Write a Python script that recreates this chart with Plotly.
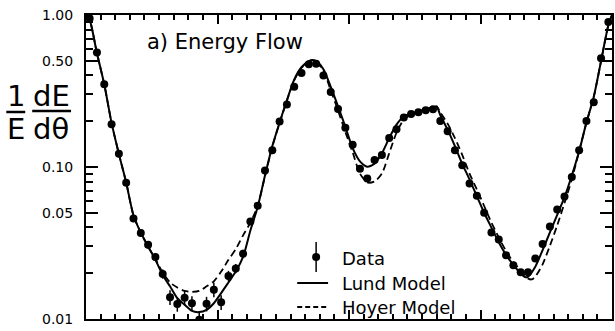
import plotly.graph_objects as go

# ---------------- data ----------------
data_theta = [2.5, 7.5, 12.5, 17.5, 22.5, 27.5, 32.5, 37.5, 42.5, 47.5,
              52.5, 57.5, 62.5, 67.5, 72.5, 77.5, 82.5, 87.5, 92.5, 97.5,
              102.5, 107.5, 112.5, 117.5, 122.5, 127.5, 132.5, 137.5, 142.5, 147.5,
              152.5, 157.5, 162.5, 167.5, 172.5, 177.5, 182.5, 187.5, 192.5, 197.5,
              202.5, 207.5, 212.5, 217.5, 222.5, 227.5, 232.5, 237.5, 242.5, 247.5,
              252.5, 257.5, 262.5, 267.5, 272.5, 277.5, 282.5, 287.5, 292.5, 297.5,
              302.5, 307.5, 312.5, 317.5, 322.5, 327.5, 332.5, 337.5, 342.5, 347.5,
              352.5, 357.5]
data_flow = [0.95, 0.566, 0.35, 0.191, 0.122, 0.0788, 0.0459, 0.0368, 0.0308, 0.0256,
             0.0198, 0.0139, 0.01255, 0.0138, 0.0127, 0.0099, 0.0126, 0.0156, 0.0129, 0.0192,
             0.0215, 0.0269, 0.0438, 0.0557, 0.095, 0.129, 0.199, 0.258, 0.337, 0.415,
             0.475, 0.477, 0.40, 0.312, 0.241, 0.181, 0.14, 0.0975, 0.0841, 0.111,
             0.12, 0.155, 0.177, 0.212, 0.223, 0.229, 0.236, 0.24, 0.201, 0.172,
             0.129, 0.1026, 0.078, 0.0646, 0.05, 0.0371, 0.0333, 0.0263, 0.0226, 0.0203,
             0.0203, 0.025, 0.0312, 0.0406, 0.0525, 0.064, 0.0861, 0.129, 0.201, 0.267,
             0.519, 0.90]
# relative errors, percent
data_err_pct = [3, 3, 3, 3, 3, 3, 4, 5, 6, 6,
                7, 11, 11, 11, 11, 12, 11, 11, 11, 8,
                7, 6, 5, 4, 3, 3, 3, 3, 3, 3,
                3, 3, 3, 3, 3, 3, 3, 4, 4, 3,
                3, 3, 3, 3, 3, 3, 3, 3, 3, 3,
                3, 3, 3, 3, 4, 4, 5, 5, 5, 5,
                5, 5, 5, 4, 4, 3, 3, 3, 3, 3,
                3, 3]

lund_theta = [0, 2.5, 7.5, 12.5, 17.5, 22.5, 27.5, 32.5, 37.5, 42.5, 47.5, 52.5, 57.5,
              62.5, 67.5, 72.5, 77.5, 82.5, 87.5, 92.5, 97.5, 102.5, 107.5, 112.5,
              117.5, 122.5, 127.5, 132.5, 137.5, 142.5, 147.5, 152.5, 155, 157.5,
              162.5, 167.5, 172.5, 177.5, 182.5, 187.5, 192.5, 197.5, 202.5, 207.5,
              212.5, 217.5, 222.5, 227.5, 232.5, 237.5, 240, 242.5, 247.5, 252.5,
              257.5, 262.5, 267.5, 272.5, 277.5, 282.5, 287.5, 292.5, 297.5, 301,
              302.5, 307.5, 312.5, 317.5, 322.5, 327.5, 332.5, 337.5, 342.5, 347.5,
              352.5, 357.5, 360]
lund_flow = [1.0, 0.93, 0.56, 0.35, 0.195, 0.122, 0.079, 0.048, 0.037, 0.030, 0.0245, 0.0195, 0.0164,
             0.0137, 0.0124, 0.0113, 0.0111, 0.0115, 0.0127, 0.0148, 0.0174, 0.0205, 0.0256, 0.0382,
             0.0546, 0.088, 0.137, 0.196, 0.275, 0.376, 0.453, 0.497, 0.505, 0.497,
             0.44, 0.337, 0.251, 0.184, 0.133, 0.109, 0.1005, 0.105, 0.123, 0.155,
             0.19, 0.215, 0.225, 0.232, 0.24, 0.247, 0.25, 0.219, 0.176, 0.137,
             0.105, 0.0828, 0.0643, 0.05, 0.0399, 0.032, 0.0264, 0.0227, 0.0199, 0.0188,
             0.019, 0.0221, 0.0284, 0.0371, 0.0485, 0.0634, 0.088, 0.127, 0.196, 0.289,
             0.497, 0.857, 1.0]

hoyer_theta = [0, 2.5, 7.5, 12.5, 17.5, 22.5, 27.5, 32.5, 37.5, 42.5, 47.5, 52.5, 57.5,
               62.5, 67.5, 72.5, 77.5, 82.5, 87.5, 92.5, 97.5, 102.5, 107.5, 112.5,
               117.5, 122.5, 127.5, 132.5, 137.5, 142.5, 147.5, 152.5, 155, 157.5,
               162.5, 167.5, 172.5, 177.5, 182.5, 187.5, 192.5, 197.5, 202.5, 207.5,
               212.5, 217.5, 222.5, 227.5, 232.5, 237.5, 240, 242.5, 247.5, 252.5,
               257.5, 262.5, 267.5, 272.5, 277.5, 282.5, 287.5, 292.5, 297.5, 302.5,
               305, 307.5, 312.5, 317.5, 322.5, 327.5, 332.5, 337.5, 342.5, 347.5,
               352.5, 357.5, 360]
hoyer_flow = [1.0, 0.93, 0.56, 0.35, 0.195, 0.122, 0.079, 0.048, 0.037, 0.030, 0.0248, 0.0202, 0.0174,
              0.0161, 0.0153, 0.0151, 0.0153, 0.0164, 0.0177, 0.0205, 0.0245, 0.0288, 0.0355, 0.043,
              0.0554, 0.087, 0.136, 0.195, 0.273, 0.372, 0.45, 0.495, 0.503, 0.493,
              0.43, 0.32, 0.235, 0.17, 0.125, 0.0905, 0.0792, 0.0804, 0.0905, 0.123,
              0.168, 0.205, 0.222, 0.232, 0.24, 0.245, 0.25, 0.229, 0.193, 0.155,
              0.12, 0.0905, 0.0712, 0.0554, 0.043, 0.0344, 0.028, 0.0237, 0.0208, 0.0185,
              0.0182, 0.019, 0.0229, 0.0303, 0.0413, 0.058, 0.083, 0.127, 0.196, 0.289,
              0.497, 0.857, 1.0]

y_tickvals = [0.01, 0.05, 0.10, 0.50, 1.00]
y_ticktext = ["0.01", "0.05", "0.10", "0.50", "1.00"]
y_minorvals = [0.02, 0.03, 0.04, 0.06, 0.07, 0.08, 0.09, 0.2, 0.3, 0.4, 0.6, 0.7, 0.8, 0.9]

legend_labels = ["Data", "Lund Model", "Hoyer Model"]

# ---------------- figure ----------------
W, H = 615, 331
ML, MR, MT, MB = 86, 1, 15, 12
PW, PH = W - ML - MR, H - MT - MB


def px(x):
    return (x - ML) / PW


def py(y):
    return (H - MB - y) / PH


FONT = "DejaVu Sans"
fig = go.Figure()

fig.add_trace(go.Scatter(
    x=lund_theta, y=lund_flow, mode="lines", name=legend_labels[1],
    line=dict(color="black", width=2, shape="spline", smoothing=0.7),
))
fig.add_trace(go.Scatter(
    x=hoyer_theta, y=hoyer_flow, mode="lines", name=legend_labels[2],
    line=dict(color="black", width=1.8, dash="7px,4px", shape="spline", smoothing=0.7),
))
fig.add_trace(go.Scatter(
    x=data_theta, y=data_flow, mode="markers", name=legend_labels[0],
    marker=dict(color="black", size=8),
    error_y=dict(type="data",
                 array=[v * p / 100 for v, p in zip(data_flow, data_err_pct)],
                 color="black", thickness=1.5, width=0),
))

axis_common = dict(showline=True, linecolor="black", linewidth=2, mirror="ticks",
                   ticks="inside", tickcolor="black", showgrid=False, zeroline=False)

fig.update_xaxes(range=[0, 360], tickmode="linear", tick0=0, dtick=90, ticklen=9, tickwidth=1.5,
                 showticklabels=False,
                 minor=dict(tickmode="linear", tick0=0, dtick=10, ticklen=5, ticks="inside",
                            tickcolor="black", tickwidth=1.5),
                 **axis_common)
fig.update_yaxes(type="log", range=[-2, 0], tickmode="array", tickvals=y_tickvals, ticktext=y_ticktext,
                 ticklen=12, tickwidth=1.5, ticklabelstandoff=8,
                 tickfont=dict(family=FONT, size=14, color="black"),
                 minor=dict(tickmode="array", tickvals=y_minorvals, ticklen=7, ticks="inside",
                            tickcolor="black", tickwidth=1.5),
                 **axis_common)

big = dict(family=FONT, size=29, color="black")
leg = dict(family=FONT, size=18, color="black")
annotations = [
    dict(text="a) Energy Flow", x=px(145), y=py(42), xanchor="left", yanchor="middle",
         font=dict(family=FONT, size=21, color="black")),
    dict(text="1", x=px(16), y=py(96), xanchor="center", yanchor="middle", font=big),
    dict(text="E", x=px(16), y=py(129), xanchor="center", yanchor="middle", font=big),
    dict(text="dE", x=px(51), y=py(96), xanchor="center", yanchor="middle", font=big),
    dict(text="dθ", x=px(51), y=py(129), xanchor="center", yanchor="middle", font=big),
    # legend texts
    dict(text=legend_labels[0], x=px(341), y=py(258), xanchor="left", yanchor="middle", font=leg),
    dict(text=legend_labels[1], x=px(341), y=py(283), xanchor="left", yanchor="middle", font=leg),
    dict(text=legend_labels[2], x=px(341), y=py(307), xanchor="left", yanchor="middle", font=leg),
]
for a in annotations:
    a.update(xref="paper", yref="paper", showarrow=False)

P = dict(xref="paper", yref="paper")
shapes = [
    # fraction bars of the axis title
    dict(type="line", x0=px(6), x1=px(25), y0=py(112), y1=py(112),
         line=dict(color="black", width=2.5), **P),
    dict(type="line", x0=px(32), x1=px(71), y0=py(111), y1=py(111),
         line=dict(color="black", width=2.5), **P),
    # legend glyphs
    dict(type="line", x0=px(317), x1=px(317), y0=py(242), y1=py(272),
         line=dict(color="black", width=1.5), **P),
    dict(type="circle", xsizemode="pixel", ysizemode="pixel", xanchor=px(317), yanchor=py(257),
         x0=-4, x1=4, y0=-4, y1=4, fillcolor="black", line=dict(color="black", width=0), **P),
    dict(type="line", x0=px(298), x1=px(329), y0=py(283), y1=py(283),
         line=dict(color="black", width=2), **P),
    dict(type="line", x0=px(298), x1=px(329), y0=py(307), y1=py(307),
         line=dict(color="black", width=1.8, dash="5px,3px"), **P),
]

fig.update_layout(
    width=W, height=H, margin=dict(l=ML, r=MR, t=MT, b=MB),
    paper_bgcolor="white", plot_bgcolor="white",
    annotations=annotations, shapes=shapes,
    showlegend=False,
)

fig.write_html("out.html")
